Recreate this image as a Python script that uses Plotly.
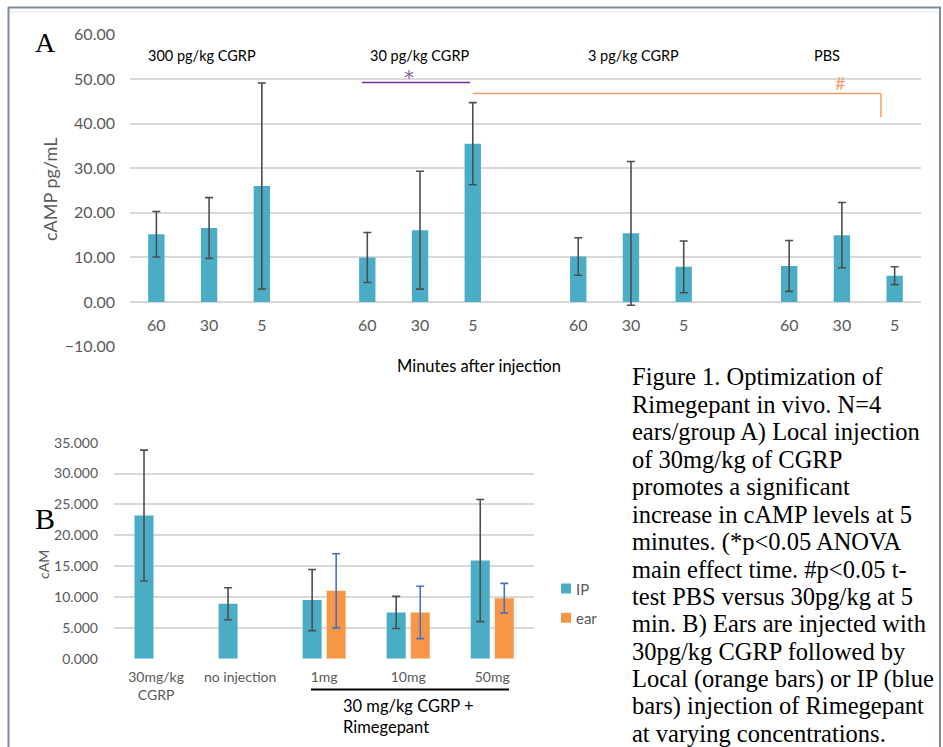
import plotly.graph_objects as go

W, H = 943, 747

# ---------------- Data: panel A ----------------
groups_A = ["300 pg/kg CGRP", "30 pg/kg CGRP", "3 pg/kg CGRP", "PBS"]
times_A = ["60", "30", "5"]
camp_A = [15.2, 16.6, 26.0, 10.0, 16.1, 35.5, 10.2, 15.4, 7.9, 8.1, 15.0, 5.9]
err_A = [5.1, 6.8, 23.1, 5.6, 13.2, 9.2, 4.2, 16.1, 5.8, 5.7, 7.3, 2.0]
yticks_A = [-10, 0, 10, 20, 30, 40, 50, 60]

# ---------------- Data: panel B ----------------
categories_B = ["30mg/kg<br>CGRP", "no injection", "1mg", "10mg", "50mg"]
ip_B = [23.2, 8.9, 9.5, 7.5, 15.9]
ip_err_B = [10.6, 2.6, 4.95, 2.6, 9.9]
ear_B = [None, None, 11.0, 7.5, 9.8]
ear_err_B = [None, None, 6.0, 4.25, 2.4]
yticks_B = [0, 5, 10, 15, 20, 25, 30, 35]
legend_B = ["IP", "ear"]

caption_lines = [
    "Figure 1. Optimization of",
    "Rimegepant in vivo. N=4",
    "ears/group A) Local injection",
    "of 30mg/kg of CGRP",
    "promotes a significant",
    "increase in cAMP levels at 5",
    "minutes. (*p<0.05 ANOVA",
    "main effect time. #p<0.05 t-",
    "test PBS versus 30pg/kg at 5",
    "min. B) Ears are injected with",
    "30pg/kg CGRP followed by",
    "Local (orange bars) or IP (blue",
    "bars) injection of Rimegepant",
    "at varying concentrations.",
]

TEAL = "#4BACC6"
ORANGE = "#F79646"
GRAY = "#595959"
ERR = "#4D4D4D"
GRID = "#D9D9D9"
FONT = "Lato"


def px(x):
    return x / W


def py(y):
    return 1 - y / H


# positions for panel A: 4 groups of 3 with one empty slot between groups
pos_A = []
labels_A = []
for g in range(len(groups_A)):
    for t in range(len(times_A)):
        pos_A.append(g * 4 + t)
        labels_A.append(times_A[t])

fig = go.Figure()

fig.add_trace(go.Bar(
    x=pos_A, y=camp_A, width=0.31, marker_color=TEAL,
    marker_line_width=0,
    error_y=dict(type="data", array=err_A, color=ERR, thickness=1.6, width=4),
    showlegend=False, xaxis="x", yaxis="y",
))

pos_B = list(range(len(categories_B)))
fig.add_trace(go.Bar(
    x=pos_B, y=ip_B, width=0.226, offset=-0.256, marker_color=TEAL,
    marker_line_width=0, name=legend_B[0], showlegend=False,
    error_y=dict(type="data", array=ip_err_B, color=ERR, thickness=1.6, width=4),
    xaxis="x2", yaxis="y2",
))
ear_x = [p for p, v in zip(pos_B, ear_B) if v is not None]
ear_y = [v for v in ear_B if v is not None]
ear_e = [e for e in ear_err_B if e is not None]
fig.add_trace(go.Bar(
    x=ear_x, y=ear_y, width=0.226, offset=0.030, marker_color=ORANGE,
    marker_line_width=0, name=legend_B[1], showlegend=False,
    error_y=dict(type="data", array=ear_e, color="#4472C4", thickness=1.6, width=4),
    xaxis="x2", yaxis="y2",
))

shapes = []
# outer frame
frame_col = "#7F8A9B"
shapes += [
    dict(type="line", xref="paper", yref="paper", x0=px(8), x1=px(941), y0=py(7.5), y1=py(7.5),
         line=dict(color=frame_col, width=2)),
    dict(type="line", xref="paper", yref="paper", x0=px(8.5), x1=px(8.5), y0=py(7), y1=py(747),
         line=dict(color=frame_col, width=2)),
    dict(type="line", xref="paper", yref="paper", x0=px(940), x1=px(940), y0=py(7), y1=py(747),
         line=dict(color=frame_col, width=2)),
    dict(type="line", xref="paper", yref="paper", x0=px(10), x1=px(938), y0=py(12), y1=py(12),
         line=dict(color="#E3E3E3", width=1)),
]
# significance lines panel A
shapes += [
    dict(type="line", xref="x", yref="y", x0=3.9, x1=5.95, y0=49.2, y1=49.2,
         line=dict(color="#7030A0", width=1.5)),
    dict(type="line", xref="x", yref="y", x0=6.0, x1=13.74, y0=46.75, y1=46.75,
         line=dict(color="#F4A064", width=1.5)),
    dict(type="line", xref="x", yref="y", x0=13.74, x1=13.74, y0=46.75, y1=41.4,
         line=dict(color="#F4A064", width=1.5)),
]
# underline in panel B
shapes.append(dict(type="line", xref="paper", yref="paper", x0=px(311), x1=px(509),
                   y0=py(689.5), y1=py(689.5), line=dict(color="#000000", width=2)))

ann = []


def add_text(x, y, text, size, color="#000000", family=FONT, xanchor="center",
             angle=0, xref="paper", yref="paper"):
    ann.append(dict(x=px(x) if xref == "paper" else x, y=py(y) if yref == "paper" else y,
                    xref=xref, yref=yref, text=text, showarrow=False, textangle=angle,
                    xanchor=xanchor, yanchor="middle",
                    font=dict(family=family, size=size, color=color)))


# legend for panel B (swatches + labels)
leg_y = [588.5, 617.8]
for name, col, ly in zip(legend_B, [TEAL, ORANGE], leg_y):
    shapes.append(dict(type="rect", xref="paper", yref="paper", x0=px(561), x1=px(571),
                       y0=py(ly + 5), y1=py(ly - 5), fillcolor=col, line=dict(width=0)))
    add_text(574, ly, name, 15, GRAY, xanchor="left")

label_x = [0.87, 5.0, 9.04, 12.72]
for gx, g in zip(label_x, groups_A):
    add_text(gx, 55.2, g, 14.5, xref="x", yref="y")
add_text(4.79, 50.4, "*", 20, "#8064A2", family="DejaVu Sans", xref="x", yref="y")
add_text(12.96, 49.0, "#", 18, "#F4A064", xref="x", yref="y")
add_text(479, 366, "Minutes after injection", 16.5)
add_text(50, 190, "cAMP pg/mL", 18, GRAY, angle=-90)
add_text(45, 42, "A", 28, family="Liberation Serif")
add_text(45, 518, "B", 30, family="Liberation Serif")
add_text(43, 565, "cAM", 14, GRAY, angle=-90)
add_text(341, 706, "30 mg/kg CGRP +", 16.5, xanchor="left")
add_text(341, 727, "Rimegepant", 16.5, xanchor="left")
for i, line in enumerate(caption_lines):
    add_text(630, 377 + i * 27.45, line, 24.5, family="Liberation Serif", xanchor="left")

fig.update_layout(
    width=W, height=H,
    margin=dict(l=0, r=0, t=0, b=0, autoexpand=False),
    paper_bgcolor="white", plot_bgcolor="white",
    barmode="overlay",
    showlegend=False,
    font=dict(family=FONT),
    xaxis=dict(domain=[px(130), px(921)], range=[-0.5, 14.5], tickvals=pos_A, ticktext=labels_A,
               anchor="free", position=py(301.7), showgrid=False, zeroline=False, showline=False,
               automargin=False,
               ticks="", ticklabelstandoff=12, tickfont=dict(family=FONT, size=16, color=GRAY)),
    yaxis=dict(domain=[py(346.7), py(34.3)], range=[-10, 60], tickvals=yticks_A,
               tickformat=".2f", gridcolor=GRID, gridwidth=1.5, zeroline=False, showline=False,
               automargin=False,
               ticks="", ticklabelstandoff=14, anchor="x",
               tickfont=dict(family=FONT, size=16, color=GRAY)),
    xaxis2=dict(domain=[px(114), px(534.3)], range=[-0.5, 4.5], tickvals=pos_B,
                ticktext=categories_B, anchor="y2", showgrid=False, zeroline=False,
                automargin=False,
                showline=False, ticks="", ticklabelstandoff=8,
                tickfont=dict(family=FONT, size=14, color=GRAY)),
    yaxis2=dict(domain=[py(658.7), py(442.7)], range=[0, 35], tickvals=yticks_B,
                tickformat=".3f", gridcolor=GRID, gridwidth=1.5, zeroline=False, showline=False,
                automargin=False,
                ticks="", ticklabelstandoff=15, anchor="x2",
                tickfont=dict(family=FONT, size=14, color=GRAY)),
    shapes=shapes,
    annotations=ann,
)

fig.write_html(
    "out.html",
    config={"displayModeBar": False},
    post_script="document.body.style.margin='0';document.body.style.overflow='hidden';",
)
